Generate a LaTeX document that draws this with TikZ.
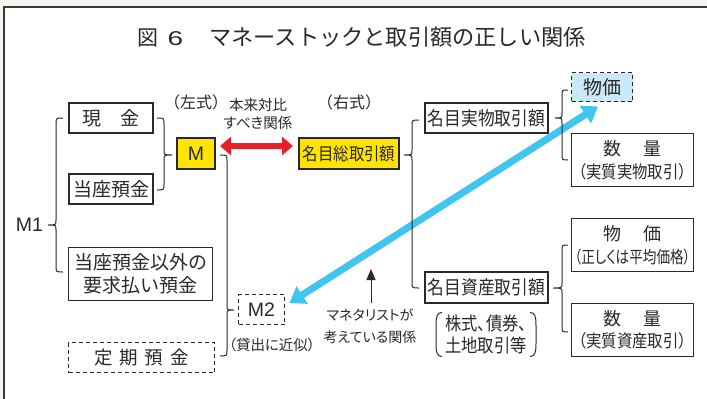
\documentclass[tikz,border=0pt]{standalone}
\usepackage{fontspec}
\setmainfont{Noto Sans CJK JP}
\newfontfamily\jpp[RawFeature=+palt]{Noto Sans CJK JP}
\newfontfamily\jpc[FakeStretch=0.88,RawFeature=+palt]{Noto Sans CJK JP}
\newfontfamily\jpcc[FakeStretch=0.8,RawFeature=+palt]{Noto Sans CJK JP}
\newfontfamily\lat{Liberation Sans}
\usetikzlibrary{arrows.meta,backgrounds,calc}
\definecolor{ink}{HTML}{2A2829}
\definecolor{yel}{HTML}{FFE400}
\definecolor{lblue}{HTML}{C9E9F7}
\definecolor{blu}{HTML}{40C4F0}
\definecolor{rd}{HTML}{E62129}
\definecolor{bgout}{HTML}{F3F5EE}
\definecolor{framec}{HTML}{3A3A3A}
\newcommand{\fs}[2]{\fontsize{#1}{#2}\selectfont}
\newcommand{\bracedraw}[6]{% x, curl, ytop, ytip, ybot, tipx
  \draw[bracestyle] ({#1+(#2)},#3) .. controls (#1,#3) .. (#1,{#3+6}) -- (#1,{#4-5})
    .. controls (#1,#4) .. (#6,#4) .. controls (#1,#4) .. (#1,{#4+5})
    -- (#1,{#5-6}) .. controls (#1,#5) .. ({#1+(#2)},#5);}
\tikzset{
  every node/.style={text=ink, inner sep=0pt, outer sep=0pt},
  thinbox/.style={draw=ink, line width=1.1pt},
  thickbox/.style={draw=ink, line width=2.5pt},
  dashbox/.style={draw=ink, line width=1.1pt, dash pattern=on 4pt off 3pt},
  ybox/.style={thickbox, fill=yel},
  bracestyle/.style={draw=ink, line width=1pt},
  bluearrow/.style={draw=blu, line width=7pt, {Triangle[width=20pt,length=15pt]}-{Triangle[width=20pt,length=15pt]}},
  redarrow/.style={draw=rd, line width=5.5pt, {Triangle[width=18pt,length=11pt]}-{Triangle[width=18pt,length=11pt]}},
  blackarrow/.style={draw=ink, line width=1pt, -{Triangle[width=9pt,length=11pt]}},
}
\begin{document}
\begin{tikzpicture}[x=1pt,y=-1pt]
\useasboundingbox (0,0) rectangle (707,399);
\begin{scope}[on background layer]
  \fill[bgout] (0,0) rectangle (707,399);
  \fill[white] (4,7) rectangle (707,399);
  \draw[framec, line width=2pt] (4,400) -- (4,7) -- (708,7);
\end{scope}

% title
\node[font=\fs{21}{25}] (t1) at (148,37.5) {図};
\node[font=\lat\fs{20}{24}] (t2) at (175.5,38.5) {\scalebox{1.4}[1]{6}};
\node[font=\fs{22.2}{26}] (t3) at (397.5,37.5) {マネーストックと取引額の正しい関係};

% left column
\node[thickbox, minimum width=84pt, minimum height=30pt, font=\fs{19}{23}] (genkin) at (111,118) {現\hspace{20pt}金};
\node[thickbox, minimum width=84pt, minimum height=30pt, font=\fs{19}{23}] (touza) at (111,189) {当座預金};
\node[thinbox, minimum width=144pt, minimum height=53pt, font=\fs{19}{23}, align=center] (youkyu) at (140.5,274) {当座預金以外の\\要求払い預金};
\node[dashbox, minimum width=146pt, minimum height=30pt, font=\fs{18.5}{22}] (teiki) at (141.5,357.5) {定\hspace{7pt}期\hspace{7pt}預\hspace{7pt}金};
\node[font=\lat\fs{19.5}{23}] (m1) at (29.5,225) {M1};

% M and M2
\node[ybox, minimum width=38pt, minimum height=31pt, font=\lat\fs{19.5}{23}] (M) at (196,153.5) {M};
\node[font=\fs{16}{19}] (hidari) at (196,102) {（左式）};
\node[dashbox, minimum width=46pt, minimum height=30pt, font=\lat\fs{19.5}{23}] (M2) at (261.5,309.5) {M2};
\node[font=\jpp\fs{14.5}{17}] (kashi) at (272,345) {（貸出に近似）};

% middle
\node[font=\jpp\fs{14.5}{17.5}, align=center] (honrai) at (258,114) {本来対比\\すべき関係};
\node[font=\fs{16}{19}] (migi) at (349,102) {（右式）};
\node[ybox, minimum width=100pt, minimum height=31pt, font=\jpc\fs{17.5}{21}] (sou) at (349,153.5) {名目総取引額};
\node[font=\jpp\fs{14}{22}, align=center] (monet) at (370,326) {マネタリストが\\考えている関係};
\coordinate (blk) at (371,269);

% right-middle column
\node[thickbox, minimum width=123pt, minimum height=30pt, font=\jpc\fs{19}{23}] (jitsu) at (486.5,118) {名目実物取引額};
\node[thickbox, minimum width=123pt, minimum height=31pt, font=\jpc\fs{19}{23}] (shisan) at (486.5,287.5) {名目資産取引額};
\node[minimum width=100pt, minimum height=44pt, font=\jpc\fs{18.5}{22.5}, align=center] (paren) at (486,334.5) {株式、債券、\\土地取引等};

% right column
\node[dashbox, fill=lblue, minimum width=61pt, minimum height=29pt, font=\fs{19}{23}] (bukka1) at (602,87) {物価};
\node[thinbox, minimum width=122pt, minimum height=53pt, align=center, font=\fs{18}{23}] (suryo1) at (632.5,160) {数\hspace{22pt}量\\{\jpc\fs{17.5}{23}（実質実物取引）}};
\node[thinbox, minimum width=122pt, minimum height=53pt, align=center, font=\fs{18}{23}] (bukka2) at (632.5,245) {物\hspace{22pt}価\\{\jpcc\fs{17}{23}（正しくは平均価格）}};
\node[thinbox, minimum width=122pt, minimum height=53pt, align=center, font=\fs{18}{22}] (suryo2) at (632.5,330) {数\hspace{22pt}量\\{\jpc\fs{17.5}{22}（実質資産取引）}};

% blue arrow (behind)
\coordinate (b1) at ([xshift=5pt,yshift=6.5pt]M2.east);
\coordinate (b2) at ([xshift=-4pt,yshift=-5pt]bukka1.south);
\begin{scope}[on background layer]
  \draw[bluearrow] (b1) -- (b2);
\end{scope}

% red arrow
\draw[redarrow, shorten <=5pt, shorten >=6pt] ([yshift=7.5pt]M.east) -- ([yshift=7.5pt]sou.west);

% black arrow
\draw[blackarrow, shorten <=6pt] (monet.north -| blk) -- (blk);

% braces
\bracedraw{56}{7}{118}{225}{272}{48}
\bracedraw{164}{-7}{118}{155}{190}{172}
\bracedraw{227}{-7}{155}{310}{356}{234}
\bracedraw{412}{7}{120}{155}{288}{404}
\bracedraw{562}{6}{90}{118}{160}{555}
\bracedraw{562}{6}{245}{288}{332}{553}

% paren brackets (tall round parentheses)
\draw[bracestyle] ([xshift=6pt]paren.north west) .. controls ([xshift=1pt]paren.north west) and ([yshift=-4pt]paren.north west) .. ([yshift=-13pt]paren.north west)
  -- ([yshift=13pt]paren.south west) .. controls ([yshift=4pt]paren.south west) and ([xshift=1pt]paren.south west) .. ([xshift=6pt]paren.south west);
\draw[bracestyle] ([xshift=-6pt]paren.north east) .. controls ([xshift=-1pt]paren.north east) and ([yshift=-4pt]paren.north east) .. ([yshift=-13pt]paren.north east)
  -- ([yshift=13pt]paren.south east) .. controls ([yshift=4pt]paren.south east) and ([xshift=-1pt]paren.south east) .. ([xshift=-6pt]paren.south east);
\end{tikzpicture}
\end{document}
